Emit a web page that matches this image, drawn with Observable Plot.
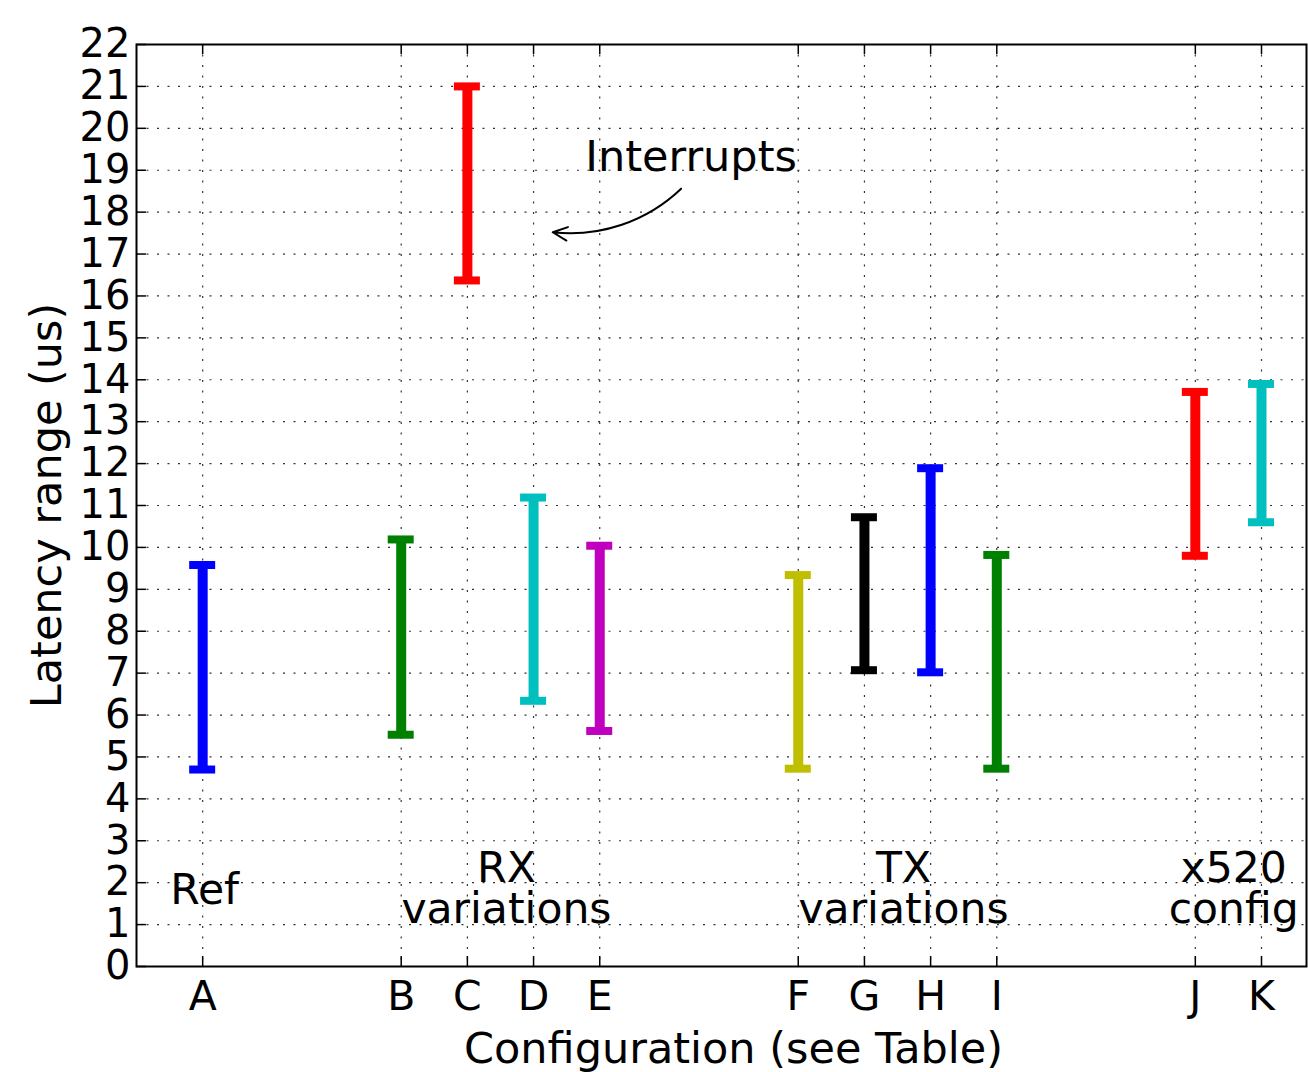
<!DOCTYPE html>
<html>
<head>
<meta charset="utf-8">
<script src="https://cdn.jsdelivr.net/npm/d3@7"></script>
<script src="https://cdn.jsdelivr.net/npm/@observablehq/plot@0.6"></script>
<style>
  html, body { margin: 0; padding: 0; background: #fff; }
  #chart svg { display: block; }
</style>
</head>
<body>
<div id="chart"></div>
<script>
// ---- data ----
const configs   = ["A", "B", "C", "D", "E", "F", "G", "H", "I", "J", "K"];
const positions = [1, 4, 5, 6, 7, 10, 11, 12, 13, 16, 17];
const lows      = [4.70, 5.53, 16.37, 6.34, 5.62, 4.72, 7.07, 7.02, 4.72, 9.80, 10.60];
const highs     = [9.58, 10.19, 21.00, 11.19, 10.04, 9.34, 10.72, 11.89, 9.82, 13.71, 13.90];
const colors    = ["#0000ff", "#008000", "#ff0000", "#00bfbf", "#bf00bf", "#bfbf00", "#000000", "#0000ff", "#008000", "#ff0000", "#00bfbf"];
const yTicks    = d3.range(0, 23);

const groupLabels = ["Ref", "RX\nvariations", "TX\nvariations", "x520\nconfig"];
const groupX      = [1.03, 5.59, 11.59, 16.58];
const groupY      = [1.5, 1.03, 1.03, 1.03];

const annotationText = "Interrupts";
const annotationPos  = {x: 8.38, y: 18.97};
const arrowFrom      = {x: 8.23, y: 18.56};
const arrowTo        = {x: 6.29, y: 17.52};

const xLabel = "Configuration (see Table)";
const yLabel = "Latency range (us)";

const bars = configs.map((c, i) => ({config: c, x: positions[i], lo: lows[i], hi: highs[i], color: colors[i]}));
const ends = bars.flatMap(d => [{x: d.x, y: d.lo, color: d.color}, {x: d.x, y: d.hi, color: d.color}]);
const groups = groupLabels.map((t, i) => ({text: t, x: groupX[i], y: groupY[i]}));

const font = "'DejaVu Sans', sans-serif";
const xDomain = [0, 17.68];
const yDomain = [0, 22];
const xTickLen = 0.15;   // inward tick lengths in data units
const yTickLen = 0.24;

const plot = Plot.plot({
  width: 1308,
  height: 1072,
  marginLeft: 136,
  marginRight: 2,
  marginTop: 44,
  marginBottom: 106,
  style: {fontFamily: font, fontSize: "40px", color: "#000", background: "#fff"},
  x: {domain: xDomain, label: null},
  y: {domain: yDomain, label: null},
  marks: [
    // grid
    Plot.ruleX(positions, {x: d => d, stroke: "#333", strokeWidth: 1.2, strokeDasharray: "2,8.5"}),
    Plot.ruleY(yTicks.slice(1, -1), {y: d => d, stroke: "#333", strokeWidth: 1.2, strokeDasharray: "2,8.5"}),
    // inward ticks
    Plot.ruleX(positions, {x: d => d, y1: 0, y2: yTickLen, stroke: "#000", strokeWidth: 1.5}),
    Plot.ruleX(positions, {x: d => d, y1: 22 - yTickLen, y2: 22, stroke: "#000", strokeWidth: 1.5}),
    Plot.ruleY(yTicks, {y: d => d, x1: 0, x2: xTickLen, stroke: "#000", strokeWidth: 1.5}),
    // axes labels (tick text)
    Plot.axisX({ticks: positions, tickFormat: (d) => configs[positions.indexOf(d)], tickSize: 0, tickPadding: 14, label: null, fontSize: 41}),
    Plot.axisY({ticks: yTicks, tickFormat: d3.format("d"), tickSize: 0, tickPadding: 6, label: null, fontSize: 40}),
    // error bars
    Plot.ruleX(bars, {x: "x", y1: "lo", y2: "hi", stroke: "color", strokeWidth: 10}),
    Plot.ruleY(ends, {x1: "x", x2: "x", y: "y", stroke: "color", strokeWidth: 8, insetLeft: -13, insetRight: -13}),
    // group labels
    Plot.text(groups, {x: "x", y: "y", text: "text", lineAnchor: "bottom", lineHeight: 0.97, fontSize: 42.5, fill: "#000"}),
    // annotation
    Plot.text([annotationPos], {x: "x", y: "y", text: () => annotationText, lineAnchor: "bottom", fontSize: 43, fill: "#000"}),
    Plot.arrow([{x1: arrowFrom.x, y1: arrowFrom.y, x2: arrowTo.x, y2: arrowTo.y}], {
      x1: "x1", y1: "y1", x2: "x2", y2: "y2", bend: 25, stroke: "#000", strokeWidth: 2, headLength: 12, headAngle: 50
    }),
    // axis titles
    Plot.text([xLabel], {frameAnchor: "bottom", text: d => d, dx: 12, dy: 96, textAnchor: "middle", lineAnchor: "bottom", fontSize: 43, fill: "#000"}),
    Plot.text([yLabel], {frameAnchor: "left", text: d => d, rotate: -90, dx: -76, textAnchor: "middle", lineAnchor: "bottom", fontSize: 43, fill: "#000"}),
    // frame
    Plot.frame({stroke: "#000", strokeWidth: 2})
  ]
});
document.getElementById("chart").appendChild(plot);
</script>
</body>
</html>
